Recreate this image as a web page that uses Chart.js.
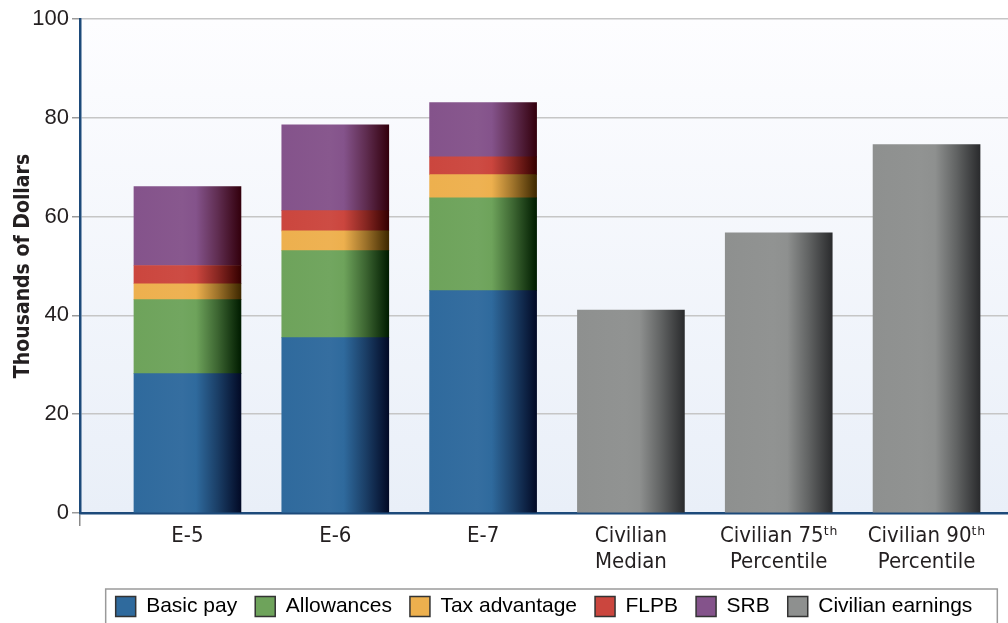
<!DOCTYPE html>
<html>
<head>
<meta charset="utf-8">
<script src="https://cdn.jsdelivr.net/npm/chart.js@4"></script>
<style>
  html, body { margin: 0; padding: 0; background: #ffffff; }
  #wrap { position: relative; width: 1008px; height: 623px; }
</style>
</head>
<body>
<div id="wrap"><canvas id="c" width="1008" height="623"></canvas></div>
<script>
// ---- data ----
const categories = [
  'E-5', 'E-6', 'E-7',
  ['Civilian', 'Median'],
  ['Civilian 75ᵗʰ', 'Percentile'],
  ['Civilian 90ᵗʰ', 'Percentile']
];
const seriesNames = ['Basic pay', 'Allowances', 'Tax advantage', 'FLPB', 'SRB', 'Civilian earnings'];
const basicPay      = [28.2, 35.5, 45.0, null, null, null];
const allowances    = [15.0, 17.6, 18.8, null, null, null];
const taxAdvantage  = [3.2, 4.0, 4.7, null, null, null];
const flpb          = [3.7, 4.1, 3.6, null, null, null];
const srb           = [16.0, 17.4, 11.0, null, null, null];
const civilian      = [null, null, null, 41.1, 56.7, 74.6];
const yTicks = [0, 20, 40, 60, 80, 100];

// ---- font detection ----
function hasFont(name) {
  const c = document.createElement('canvas').getContext('2d');
  const s = 'abcdefghijklmnopqrstuvwxyz ABCDEFG 0123456789';
  c.font = '30px monospace';
  const w1 = c.measureText(s).width;
  c.font = `30px "${name}", monospace`;
  const w2 = c.measureText(s).width;
  c.font = '30px serif';
  const w3 = c.measureText(s).width;
  c.font = `30px "${name}", serif`;
  const w4 = c.measureText(s).width;
  return w1 !== w2 || w3 !== w4;
}
const NARROW = hasFont('Liberation Sans Narrow') ? '"Liberation Sans Narrow"'
  : (hasFont('DejaVu Sans Condensed') ? '"DejaVu Sans Condensed"' : null);
const SANS = '"Liberation Sans", Arial, Helvetica, sans-serif';
const xFont = NARROW ? { family: NARROW + ', ' + SANS, size: 22 } : { family: SANS, size: 20 };
const titleFont = NARROW ? { family: NARROW + ', ' + SANS, size: 21, weight: 'bold' } : { family: SANS, size: 21, weight: 'bold' };

// ---- styles ----
const baseColors = ['#2f6a9d', '#6ea35b', '#edb04e', '#cb463e', '#84538b', '#8e908f'];
const darkColors = ['#020a26', '#001c00', '#3e2800', '#350000', '#33000d', '#2a2b2d'];
const BAR_W = 107;

function mix(hex, hex2, t) {
  const a = parseInt(hex.slice(1), 16), b = parseInt(hex2.slice(1), 16);
  const r = Math.round(((a >> 16) & 255) * (1 - t) + ((b >> 16) & 255) * t);
  const g = Math.round(((a >> 8) & 255) * (1 - t) + ((b >> 8) & 255) * t);
  const bl = Math.round((a & 255) * (1 - t) + (b & 255) * t);
  return `rgb(${r},${g},${bl})`;
}

function barFill(si) {
  return function (ctx) {
    const chart = ctx.chart;
    const xs = chart.scales && chart.scales.x;
    if (!xs || !chart.chartArea || ctx.dataIndex === undefined) return baseColors[si];
    const cx = xs.getPixelForValue(ctx.dataIndex);
    const g = chart.ctx.createLinearGradient(cx - BAR_W / 2, 0, cx + BAR_W / 2, 0);
    const b = baseColors[si], d = darkColors[si];
    g.addColorStop(0, b);
    g.addColorStop(0.45, mix(b, '#ffffff', 0.03));
    g.addColorStop(0.58, b);
    g.addColorStop(0.78, mix(b, d, 0.45));
    g.addColorStop(1, d);
    return g;
  };
}

const seriesValues = [basicPay, allowances, taxAdvantage, flpb, srb, civilian];
const datasets = seriesValues.map((vals, si) => ({
  label: seriesNames[si],
  data: vals.map((v, i) => ({ x: i, y: v })),
  backgroundColor: barFill(si),
  borderWidth: 0,
  barThickness: BAR_W
}));

const X_MIN = -0.727, X_MAX = 5.551;

const bgPlugin = {
  id: 'bg',
  beforeDraw(chart) {
    const { ctx, chartArea: a } = chart;
    const g = ctx.createLinearGradient(0, a.top, 0, a.bottom);
    g.addColorStop(0, '#fdfdff');
    g.addColorStop(1, '#e9eff8');
    ctx.save();
    ctx.fillStyle = g;
    ctx.fillRect(a.left, a.top, a.right - a.left, a.bottom - a.top);
    ctx.restore();
  }
};

const legendBox = {
  id: 'legendBox',
  afterDraw(chart) {
    const lg = chart.legend;
    if (!lg || !lg.legendHitBoxes || !lg.legendHitBoxes.length) return;
    const hb = lg.legendHitBoxes;
    const left = hb[0].left - 10;
    const right = Math.max(...hb.map(h => h.left + h.width)) + 25;
    const top = hb[0].top - 7;
    const ctx = chart.ctx;
    ctx.save();
    ctx.strokeStyle = '#9a9a9a';
    ctx.lineWidth = 1.5;
    ctx.strokeRect(left, top, right - left, 60);
    ctx.restore();
  }
};

new Chart(document.getElementById('c'), {
  type: 'bar',
  data: { datasets },
  options: {
    responsive: false,
    animation: false,
    layout: { padding: { top: 19, right: 0, left: 0, bottom: -4 } },
    scales: {
      x: {
        type: 'linear',
        stacked: true,
        offset: false,
        min: X_MIN,
        max: X_MAX,
        afterBuildTicks(scale) {
          scale.ticks = [{ value: X_MIN }].concat(categories.map((c, i) => ({ value: i })));
        },
        afterFit(scale) { scale.height = 65; },
        ticks: {
          autoSkip: false,
          maxRotation: 0,
          padding: -3,
          color: '#231f20',
          font: xFont,
          callback(v) { return Number.isInteger(v) ? categories[v] : ''; }
        },
        grid: {
          offset: false,
          drawOnChartArea: false,
          drawTicks: true,
          tickLength: 13,
          lineWidth: 1.5,
          color: (c) => (c.tick && !Number.isInteger(c.tick.value)) ? '#8a8a8a' : 'rgba(0,0,0,0)'
        },
        border: { display: true, color: '#1d4a7a', width: 2.5 }
      },
      y: {
        stacked: true,
        min: 0,
        max: 100,
        afterBuildTicks(scale) { scale.ticks = yTicks.map(v => ({ value: v })); },
        afterFit(scale) { scale.width = 80; },
        ticks: {
          padding: 3,
          color: '#231f20',
          font: { family: SANS, size: 22 }
        },
        grid: {
          color: '#c6c6c6',
          lineWidth: 1.5,
          tickLength: 8,
          tickColor: '#9a9a9a'
        },
        border: { display: true, color: '#1d4a7a', width: 2.5 },
        title: {
          display: true,
          text: 'Thousands of Dollars',
          color: '#231f20',
          padding: { top: 11, bottom: 0 },
          font: titleFont
        }
      }
    },
    plugins: {
      tooltip: { enabled: false },
      legend: {
        position: 'bottom',
        fullSize: false,
        labels: {
          boxWidth: 20,
          boxHeight: 20,
          padding: 18,
          color: '#231f20',
          font: { family: SANS, size: 21 },
          generateLabels() {
            return seriesNames.map((n, i) => ({
              text: n,
              fillStyle: baseColors[i],
              strokeStyle: '#333333',
              lineWidth: 1.5,
              hidden: false,
              datasetIndex: i
            }));
          }
        }
      }
    }
  },
  plugins: [bgPlugin, legendBox]
});
</script>
</body>
</html>
